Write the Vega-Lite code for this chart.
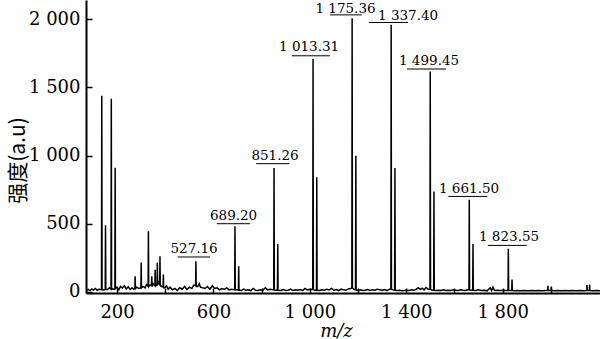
{
  "$schema": "https://vega.github.io/schema/vega-lite/v6.json",
  "width": 514,
  "height": 293,
  "autosize": "none",
  "padding": {"left": 86, "top": 0, "right": 0, "bottom": 46},
  "background": "white",
  "config": {
    "view": {"stroke": null},
    "axis": {"grid": false, "domainColor": "black", "tickColor": "black", "labelColor": "black", "titleColor": "black", "labelFont": "DejaVu Serif", "labelFontSize": 18, "titleFontWeight": "normal"}
  },
  "datasets": {
    "spectrum": [
      {"mz": 72, "v": 12}, {"mz": 80, "v": 18}, {"mz": 88, "v": 10}, {"mz": 95, "v": 22}, {"mz": 102, "v": 14}, {"mz": 110, "v": 25}, {"mz": 118, "v": 12}, {"mz": 126, "v": 20}, {"mz": 133, "v": 15},
      {"mz": 135.3, "v": 15}, {"mz": 136.5, "v": 1438}, {"mz": 137.7, "v": 20}, {"mz": 144, "v": 15},
      {"mz": 150.8, "v": 18}, {"mz": 152, "v": 488}, {"mz": 153.2, "v": 18}, {"mz": 160, "v": 18}, {"mz": 168, "v": 30},
      {"mz": 174.8, "v": 20}, {"mz": 176, "v": 1416}, {"mz": 177.2, "v": 20}, {"mz": 184, "v": 22},
      {"mz": 190.8, "v": 20}, {"mz": 192, "v": 911}, {"mz": 193.2, "v": 25},
      {"mz": 200, "v": 35}, {"mz": 207, "v": 15}, {"mz": 214, "v": 40}, {"mz": 222, "v": 28}, {"mz": 230, "v": 45}, {"mz": 238, "v": 22}, {"mz": 246, "v": 38}, {"mz": 254, "v": 18}, {"mz": 262, "v": 30}, {"mz": 268, "v": 20},
      {"mz": 273.8, "v": 25}, {"mz": 275, "v": 114}, {"mz": 276.2, "v": 25}, {"mz": 282, "v": 35}, {"mz": 290, "v": 25},
      {"mz": 298.8, "v": 30}, {"mz": 300, "v": 215}, {"mz": 301.2, "v": 30}, {"mz": 308, "v": 40}, {"mz": 316, "v": 30}, {"mz": 322, "v": 55},
      {"mz": 328.8, "v": 40}, {"mz": 330, "v": 444}, {"mz": 331.2, "v": 40}, {"mz": 337, "v": 50},
      {"mz": 342.8, "v": 45}, {"mz": 344, "v": 114}, {"mz": 345.2, "v": 40}, {"mz": 350, "v": 60},
      {"mz": 356.8, "v": 45}, {"mz": 358, "v": 163}, {"mz": 359.2, "v": 45}, {"mz": 362, "v": 45},
      {"mz": 365.8, "v": 50}, {"mz": 367, "v": 215}, {"mz": 368.2, "v": 50}, {"mz": 372, "v": 70},
      {"mz": 376.8, "v": 55}, {"mz": 378, "v": 261}, {"mz": 379.2, "v": 50}, {"mz": 385, "v": 40},
      {"mz": 390.8, "v": 35}, {"mz": 392, "v": 127}, {"mz": 393.2, "v": 30},
      {"mz": 398, "v": 30}, {"mz": 405, "v": 45}, {"mz": 412, "v": 20}, {"mz": 420, "v": 35}, {"mz": 430, "v": 15}, {"mz": 440, "v": 25}, {"mz": 450, "v": 10}, {"mz": 460, "v": 30}, {"mz": 470, "v": 20}, {"mz": 480, "v": 40}, {"mz": 490, "v": 18}, {"mz": 500, "v": 35}, {"mz": 510, "v": 25}, {"mz": 518, "v": 50},
      {"mz": 525.9, "v": 45}, {"mz": 527.2, "v": 224}, {"mz": 528.4, "v": 40}, {"mz": 535, "v": 40}, {"mz": 541, "v": 60}, {"mz": 546, "v": 35},
      {"mz": 555, "v": 30}, {"mz": 565, "v": 25}, {"mz": 575, "v": 40}, {"mz": 585, "v": 20}, {"mz": 595, "v": 45}, {"mz": 605, "v": 25}, {"mz": 615, "v": 30}, {"mz": 625, "v": 15}, {"mz": 635, "v": 25}, {"mz": 645, "v": 18}, {"mz": 655, "v": 30}, {"mz": 665, "v": 15}, {"mz": 675, "v": 20},
      {"mz": 688, "v": 15}, {"mz": 689.2, "v": 481}, {"mz": 690.4, "v": 15}, {"mz": 697, "v": 15},
      {"mz": 703.5, "v": 12}, {"mz": 704.7, "v": 188}, {"mz": 705.9, "v": 12},
      {"mz": 715, "v": 10}, {"mz": 725, "v": 20}, {"mz": 735, "v": 12}, {"mz": 745, "v": 15}, {"mz": 755, "v": 10}, {"mz": 765, "v": 25}, {"mz": 775, "v": 12}, {"mz": 785, "v": 10}, {"mz": 795, "v": 15}, {"mz": 805, "v": 12}, {"mz": 815, "v": 30}, {"mz": 825, "v": 15}, {"mz": 835, "v": 20},
      {"mz": 850, "v": 15}, {"mz": 851.3, "v": 908}, {"mz": 852.5, "v": 15}, {"mz": 858, "v": 12},
      {"mz": 865.5, "v": 12}, {"mz": 866.7, "v": 352}, {"mz": 867.9, "v": 12},
      {"mz": 880, "v": 10}, {"mz": 890, "v": 18}, {"mz": 900, "v": 10}, {"mz": 910, "v": 12}, {"mz": 920, "v": 20}, {"mz": 930, "v": 10}, {"mz": 940, "v": 15}, {"mz": 950, "v": 12}, {"mz": 960, "v": 18}, {"mz": 970, "v": 10}, {"mz": 980, "v": 25}, {"mz": 990, "v": 15}, {"mz": 1000, "v": 20},
      {"mz": 1012, "v": 18}, {"mz": 1013.3, "v": 1707}, {"mz": 1014.5, "v": 18}, {"mz": 1020, "v": 12},
      {"mz": 1027.5, "v": 12}, {"mz": 1028.7, "v": 840}, {"mz": 1029.9, "v": 12},
      {"mz": 1040, "v": 10}, {"mz": 1050, "v": 15}, {"mz": 1060, "v": 12}, {"mz": 1070, "v": 20}, {"mz": 1080, "v": 15}, {"mz": 1090, "v": 25}, {"mz": 1100, "v": 12}, {"mz": 1110, "v": 18}, {"mz": 1120, "v": 10}, {"mz": 1130, "v": 20}, {"mz": 1140, "v": 15}, {"mz": 1150, "v": 12}, {"mz": 1160, "v": 22}, {"mz": 1170, "v": 25},
      {"mz": 1174.2, "v": 30}, {"mz": 1175.4, "v": 2007}, {"mz": 1176.6, "v": 30}, {"mz": 1182, "v": 20},
      {"mz": 1189.6, "v": 15}, {"mz": 1190.8, "v": 999}, {"mz": 1192, "v": 15},
      {"mz": 1200, "v": 10}, {"mz": 1210, "v": 15}, {"mz": 1220, "v": 10}, {"mz": 1230, "v": 12}, {"mz": 1240, "v": 18}, {"mz": 1250, "v": 10}, {"mz": 1260, "v": 15}, {"mz": 1270, "v": 12}, {"mz": 1280, "v": 20}, {"mz": 1290, "v": 15}, {"mz": 1300, "v": 12}, {"mz": 1310, "v": 18}, {"mz": 1320, "v": 10}, {"mz": 1330, "v": 20},
      {"mz": 1336.2, "v": 20}, {"mz": 1337.4, "v": 1958}, {"mz": 1338.6, "v": 20}, {"mz": 1345, "v": 15},
      {"mz": 1351.8, "v": 12}, {"mz": 1353, "v": 908}, {"mz": 1354.2, "v": 12},
      {"mz": 1362, "v": 10}, {"mz": 1372, "v": 12}, {"mz": 1382, "v": 8}, {"mz": 1392, "v": 10}, {"mz": 1402, "v": 12}, {"mz": 1412, "v": 10}, {"mz": 1422, "v": 15}, {"mz": 1432, "v": 12}, {"mz": 1442, "v": 20}, {"mz": 1450, "v": 30}, {"mz": 1458, "v": 18}, {"mz": 1466, "v": 28}, {"mz": 1474, "v": 15}, {"mz": 1482, "v": 32}, {"mz": 1490, "v": 20},
      {"mz": 1498.3, "v": 20}, {"mz": 1499.5, "v": 1616}, {"mz": 1500.7, "v": 20}, {"mz": 1507, "v": 12},
      {"mz": 1513.8, "v": 12}, {"mz": 1515, "v": 737}, {"mz": 1516.2, "v": 12},
      {"mz": 1525, "v": 10}, {"mz": 1535, "v": 12}, {"mz": 1545, "v": 10}, {"mz": 1555, "v": 15}, {"mz": 1565, "v": 10}, {"mz": 1575, "v": 12}, {"mz": 1585, "v": 10}, {"mz": 1595, "v": 15}, {"mz": 1605, "v": 12}, {"mz": 1615, "v": 10}, {"mz": 1625, "v": 15}, {"mz": 1635, "v": 12}, {"mz": 1645, "v": 10}, {"mz": 1655, "v": 15},
      {"mz": 1660.3, "v": 15}, {"mz": 1661.5, "v": 676}, {"mz": 1662.7, "v": 15}, {"mz": 1668, "v": 12},
      {"mz": 1675.8, "v": 12}, {"mz": 1677, "v": 352}, {"mz": 1678.2, "v": 12},
      {"mz": 1688, "v": 10}, {"mz": 1700, "v": 15}, {"mz": 1712, "v": 10}, {"mz": 1724, "v": 12}, {"mz": 1736, "v": 8}, {"mz": 1748, "v": 30}, {"mz": 1754, "v": 10}, {"mz": 1760, "v": 35}, {"mz": 1766, "v": 10}, {"mz": 1778, "v": 12}, {"mz": 1790, "v": 10}, {"mz": 1800, "v": 12}, {"mz": 1812, "v": 10},
      {"mz": 1822.4, "v": 12}, {"mz": 1823.6, "v": 317}, {"mz": 1824.8, "v": 12}, {"mz": 1830, "v": 10},
      {"mz": 1837.8, "v": 10}, {"mz": 1839, "v": 90}, {"mz": 1840.2, "v": 10},
      {"mz": 1850, "v": 8}, {"mz": 1862, "v": 10}, {"mz": 1875, "v": 8}, {"mz": 1890, "v": 10}, {"mz": 1905, "v": 8}, {"mz": 1920, "v": 10}, {"mz": 1935, "v": 8}, {"mz": 1950, "v": 10}, {"mz": 1965, "v": 8}, {"mz": 1980, "v": 10},
      {"mz": 1987, "v": 10}, {"mz": 1988, "v": 45}, {"mz": 1989, "v": 10}, {"mz": 1995, "v": 10}, {"mz": 2001, "v": 10}, {"mz": 2002, "v": 40}, {"mz": 2003, "v": 10},
      {"mz": 2015, "v": 8}, {"mz": 2030, "v": 10}, {"mz": 2045, "v": 8}, {"mz": 2060, "v": 10}, {"mz": 2075, "v": 8}, {"mz": 2090, "v": 10}, {"mz": 2105, "v": 8}, {"mz": 2120, "v": 10}, {"mz": 2135, "v": 8},
      {"mz": 2149, "v": 10}, {"mz": 2150, "v": 50}, {"mz": 2151, "v": 10}, {"mz": 2160, "v": 10}, {"mz": 2161, "v": 55}, {"mz": 2162, "v": 10}, {"mz": 2175, "v": 8}, {"mz": 2190, "v": 10}, {"mz": 2204, "v": 8}
    ],
    "labels": [
      {"label": "527.16", "tx": 519.5, "ty": 288, "x1": 451.9, "x2": 585.9, "uy": 256},
      {"label": "689.20", "tx": 683.4, "ty": 530, "x1": 613.7, "x2": 751.9, "uy": 500},
      {"label": "851.26", "tx": 855.6, "ty": 964, "x1": 776.8, "x2": 914.9, "uy": 940},
      {"label": "1 013.31", "tx": 996.7, "ty": 1763, "x1": 924.9, "x2": 1083.8, "uy": 1731},
      {"label": "1 175.36", "tx": 1148, "ty": 2048, "x1": 1083.8, "x2": 1215.4, "uy": 2031},
      {"label": "1 337.40", "tx": 1407.5, "ty": 1995, "x1": 1245.6, "x2": 1407.5, "uy": 1975},
      {"label": "1 499.45", "tx": 1494.6, "ty": 1665, "x1": 1403.3, "x2": 1565.1, "uy": 1634},
      {"label": "1 661.50", "tx": 1660.6, "ty": 727, "x1": 1574.7, "x2": 1736.5, "uy": 700},
      {"label": "1 823.55", "tx": 1826.6, "ty": 371, "x1": 1738.2, "x2": 1900, "uy": 341}
    ]
  },
  "layer": [
    {
      "data": {"name": "spectrum"},
      "mark": {"type": "line", "color": "black", "strokeWidth": 1.5, "clip": true},
      "encoding": {
        "x": {
          "field": "mz", "type": "quantitative",
          "scale": {"domain": [71, 2204], "nice": false, "zero": false},
          "axis": {
            "title": "m/z", "titleFont": "DejaVu Serif", "titleFontStyle": "italic", "titleFontSize": 18,
            "titleX": 250, "titleY": 43, "titleBaseline": "alphabetic", "titleAlign": "center",
            "values": [200, 400, 600, 800, 1000, 1200, 1400, 1600, 1800, 2000],
            "labelExpr": "datum.value % 400 == 200 ? (datum.value >= 1000 ? floor(datum.value / 1000) + ' ' + format(datum.value % 1000, '03d') : format(datum.value, 'd')) : ''",
            "tickSize": -5, "labelPadding": 15, "domainWidth": 2, "tickWidth": 1.5, "labelFlush": false
          }
        },
        "y": {
          "field": "v", "type": "quantitative",
          "scale": {"domain": [-8, 2140], "nice": false, "zero": false},
          "axis": {
            "title": "强度(a.u)", "titleFont": "Noto Sans CJK SC", "titleFontSize": 21,
            "titleAngle": -90, "titleX": -68, "titleY": 160, "titleAlign": "center", "titleBaseline": "middle",
            "values": [0, 500, 1000, 1500, 2000],
            "labelExpr": "datum.value >= 1000 ? floor(datum.value / 1000) + ' ' + format(datum.value % 1000, '03d') : format(datum.value, 'd')",
            "tickSize": -6, "labelPadding": 12, "domainWidth": 2, "tickWidth": 1.5, "labelFlush": false
          }
        }
      }
    },
    {
      "data": {"name": "labels"},
      "mark": {"type": "rule", "color": "black", "strokeWidth": 1},
      "encoding": {
        "x": {"field": "x1", "type": "quantitative", "scale": {"domain": [71, 2204], "nice": false, "zero": false}},
        "x2": {"field": "x2"},
        "y": {"field": "uy", "type": "quantitative", "scale": {"domain": [-8, 2140], "nice": false, "zero": false}}
      }
    },
    {
      "data": {"name": "labels"},
      "mark": {"type": "text", "font": "DejaVu Serif", "fontSize": 13.5, "align": "center", "baseline": "alphabetic", "color": "black"},
      "encoding": {
        "x": {"field": "tx", "type": "quantitative", "scale": {"domain": [71, 2204], "nice": false, "zero": false}},
        "y": {"field": "ty", "type": "quantitative", "scale": {"domain": [-8, 2140], "nice": false, "zero": false}},
        "text": {"field": "label"}
      }
    }
  ]
}
